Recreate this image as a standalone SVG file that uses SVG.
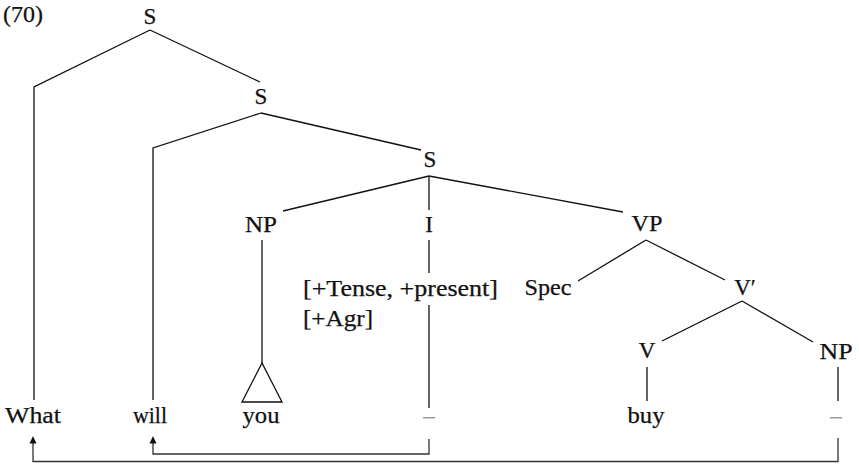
<svg xmlns="http://www.w3.org/2000/svg" width="859" height="464" viewBox="0 0 859 464">
<style>
text{font-family:"Liberation Serif","Times New Roman",serif;font-size:23px;fill:#111;stroke:#111;stroke-width:0.25}
.c{text-anchor:middle}
.tr{stroke:#111;stroke-width:1.3;fill:none}
.mv{stroke:#333;stroke-width:1.3;fill:none}
text.gap{fill:#9a9a9a;stroke:#9a9a9a}
</style>
<text x="3" y="22" textLength="40" lengthAdjust="spacingAndGlyphs">(70)</text>
<g id="connectors">
<path class="tr" d="M150,30 L34,87 L34,400"/>
<path class="tr" d="M150,30 L260,82"/>
<path class="tr" d="M261,113 L153,148 L153,400"/>
<path class="tr" d="M261,113 L421,150"/>
<path class="tr" d="M429,176 L283,211"/>
<path class="tr" d="M429,176 L429,210"/>
<path class="tr" d="M429,176 L623,212"/>
<path class="tr" d="M262,240 L262,363"/>
<path class="tr" d="M429,240 L429,273"/>
<path class="tr" d="M429,305 L429,408"/>
<path class="tr" d="M646,240 L578,281"/>
<path class="tr" d="M646,240 L725,280"/>
<path class="tr" d="M742,301 L662,341"/>
<path class="tr" d="M742,301 L813,342"/>
<path class="tr" d="M647,367 L647,401"/>
<path class="tr" d="M838,367 L838,401"/>
<path class="mv" d="M838,438 L838,461.5 L33,461.5 L33,443"/>
<path d="M29.5,443.5 L33,436 L36.5,443.5 Z" fill="#111"/>
<path class="mv" d="M429,439 L429,454 L153,454 L153,443"/>
<path d="M149.5,443.5 L153,436 L156.5,443.5 Z" fill="#111"/>
</g>
<g id="S1"><text class="c" x="150" y="24">S</text></g>
<g id="S2"><text class="c" x="261" y="104">S</text></g>
<g id="S3"><text class="c" x="430" y="167">S</text></g>
<g id="NP1"><text class="c" x="261" y="232" textLength="32" lengthAdjust="spacingAndGlyphs">NP</text></g>
<g id="I"><text class="c" x="429" y="232">I</text></g>
<g id="VP"><text class="c" x="647" y="231" textLength="31" lengthAdjust="spacingAndGlyphs">VP</text></g>
<g id="features">
<text x="303" y="296" textLength="195" lengthAdjust="spacingAndGlyphs">[+Tense, +present]</text>
<text x="303" y="326" textLength="70" lengthAdjust="spacingAndGlyphs">[+Agr]</text>
</g>
<g id="Spec"><text class="c" x="548" y="295" textLength="47" lengthAdjust="spacingAndGlyphs">Spec</text></g>
<g id="Vbar"><text class="c" x="745" y="295">V′</text></g>
<g id="V"><text class="c" x="647" y="358">V</text></g>
<g id="NP2"><text class="c" x="836" y="359" textLength="33" lengthAdjust="spacingAndGlyphs">NP</text></g>
<g id="triangle"><path class="tr" d="M262,363 L242,402 L282,402 Z"/></g>
<g id="What"><text x="5" y="423" textLength="56" lengthAdjust="spacingAndGlyphs">What</text></g>
<g id="will"><text class="c" x="150" y="423" textLength="34" lengthAdjust="spacingAndGlyphs">will</text></g>
<g id="you"><text class="c" x="261" y="423" textLength="37" lengthAdjust="spacingAndGlyphs">you</text></g>
<g id="trace1"><text class="c gap" x="429" y="423">–</text></g>
<g id="buy"><text class="c" x="646" y="423" textLength="37" lengthAdjust="spacingAndGlyphs">buy</text></g>
<g id="trace2"><text class="c gap" x="836" y="423">–</text></g>
</svg>
